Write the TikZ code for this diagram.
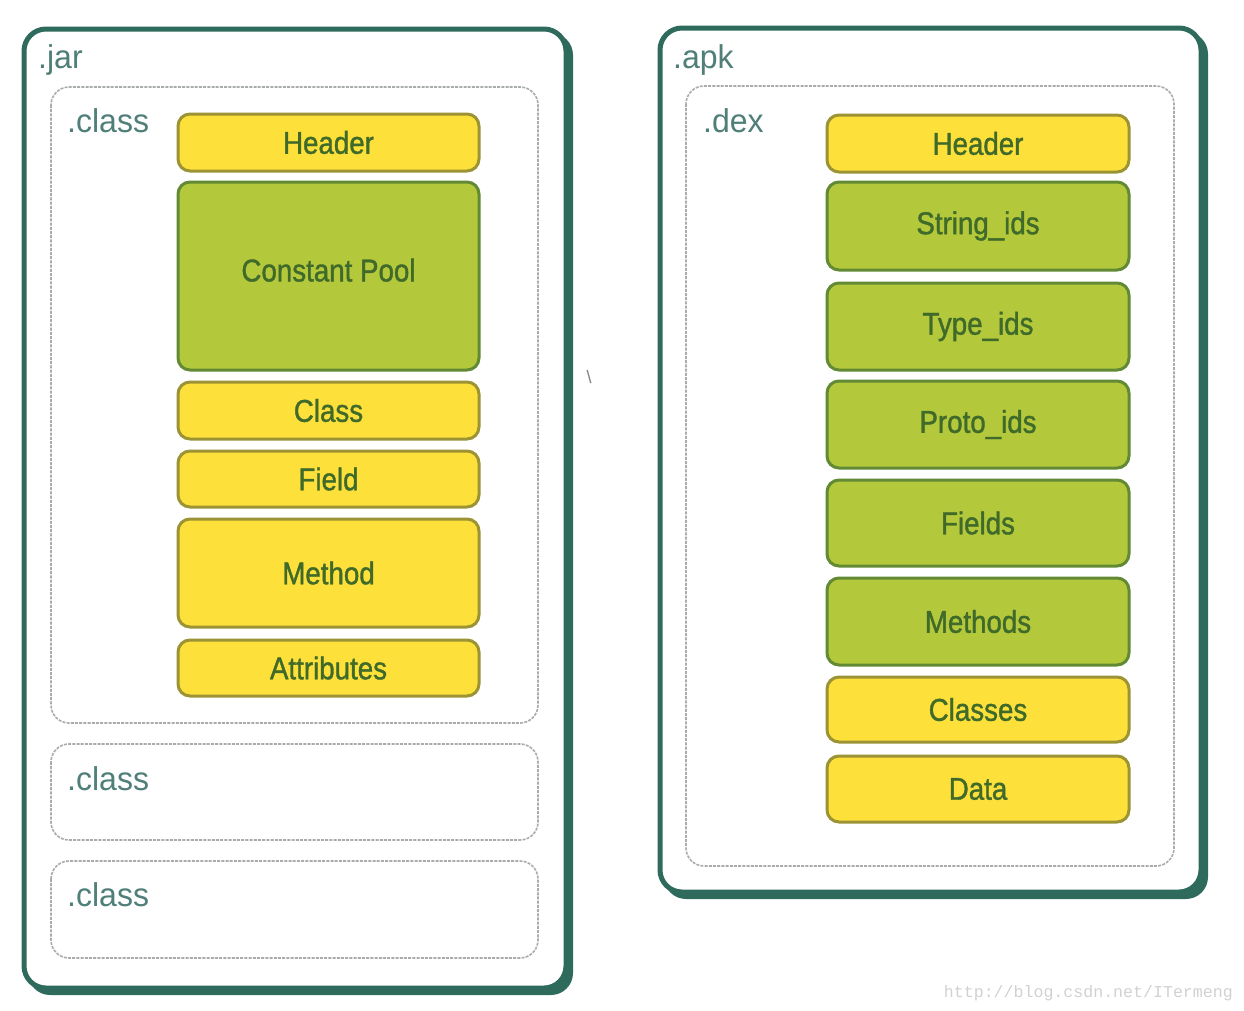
\documentclass[tikz,border=0pt]{standalone}
\usepackage{fontspec}
\setmainfont{Liberation Sans}
\newfontfamily\blkfont[FakeStretch=0.88,FakeBold=1.2]{Liberation Sans}
\newfontfamily\labfont[FakeStretch=0.97]{Liberation Sans}
\newfontfamily\wmfont{Liberation Mono}
\definecolor{teal1}{HTML}{2F6B5C}
\definecolor{lbl}{HTML}{4F7F78}
\definecolor{yfill}{HTML}{FDE03A}
\definecolor{ydraw}{HTML}{9C9334}
\definecolor{gfill}{HTML}{B4C83B}
\definecolor{gdraw}{HTML}{628A34}
\definecolor{btxt}{HTML}{3F6A2A}
\definecolor{dotg}{HTML}{A8ADAA}
\begin{document}
\begin{tikzpicture}[x=1pt,y=-1pt,
  outerbox/.style={draw=teal1,line width=5pt,fill=white,rounded corners=22pt},
  outershadow/.style={fill=teal1,rounded corners=22pt},
  innerbox/.style={draw=dotg,line width=1.6pt,dash pattern=on 3pt off 1.2pt,rounded corners=18pt},
  lab/.style={anchor=base west,inner sep=0pt,text=lbl,font=\labfont\fontsize{33}{34}\selectfont},
  blk/.style={rounded corners=12pt,line width=3pt,inner sep=0pt,text=btxt,font=\blkfont\fontsize{31.5}{32}\selectfont},
  yblock/.style={blk,draw=ydraw,fill=yfill},
  gblock/.style={blk,draw=gdraw,fill=gfill}]
\useasboundingbox (0,0) rectangle (1244,1010);
% outer containers
\fill[outershadow] (28,33) rectangle (573,995);
\draw[outerbox] (24,29) rectangle (566,988);
\fill[outershadow] (664,32) rectangle (1208,899);
\draw[outerbox] (660,28) rectangle (1201,892);
\node[lab] (jar) at (38,68) {.jar};
\node[lab] (apk) at (673,68) {.apk};
% inner dotted boxes
\draw[innerbox] (51,87) rectangle (538,723);
\draw[innerbox] (51,744) rectangle (538,840);
\draw[innerbox] (51,861) rectangle (538,958);
\draw[innerbox] (686,86) rectangle (1174,866);
\node[lab] (c1) at (67,132) {.class};
\node[lab] (c2) at (67,790) {.class};
\node[lab] (c3) at (67,906) {.class};
\node[lab] (dex) at (703,132) {.dex};
% left stack
\node[yblock,minimum width=301pt,minimum height=57pt] (lh) at (328.5,142.5) {Header};
\node[gblock,minimum width=301pt,minimum height=188pt,text depth=12pt] (lcp) at (328.5,276) {Constant Pool};
\node[yblock,minimum width=301pt,minimum height=57pt] (lcl) at (328.5,410.5) {Class};
\node[yblock,minimum width=301pt,minimum height=56pt] (lf) at (328.5,479) {Field};
\node[yblock,minimum width=301pt,minimum height=108pt] (lm) at (328.5,573) {Method};
\node[yblock,minimum width=301pt,minimum height=56pt] (la) at (328.5,668) {Attributes};
% right stack
\node[yblock,minimum width=302pt,minimum height=57pt] (rh) at (978,143.5) {Header};
\node[gblock,minimum width=302pt,minimum height=88pt] (rs) at (978,226) {String\_ids};
\node[gblock,minimum width=302pt,minimum height=87pt] (rt) at (978,326.5) {Type\_ids};
\node[gblock,minimum width=302pt,minimum height=87pt] (rp) at (978,424.5) {Proto\_ids};
\node[gblock,minimum width=302pt,minimum height=86pt] (rf) at (978,523) {Fields};
\node[gblock,minimum width=302pt,minimum height=87pt] (rm) at (978,621.5) {Methods};
\node[yblock,minimum width=302pt,minimum height=65pt] (rc) at (978,709.5) {Classes};
\node[yblock,minimum width=302pt,minimum height=66pt] (rd) at (978,789) {Data};
% stray mark and watermark
\node[text=gray,font=\fontsize{18}{18}\selectfont,inner sep=0pt] (mark) at (589,377) {\textbackslash};
\node[anchor=base east,inner sep=0pt,text=black!18,font=\wmfont\fontsize{16.6}{17}\selectfont] (wm) at (1233,997) {http://blog.csdn.net/ITermeng};
\end{tikzpicture}
\end{document}
